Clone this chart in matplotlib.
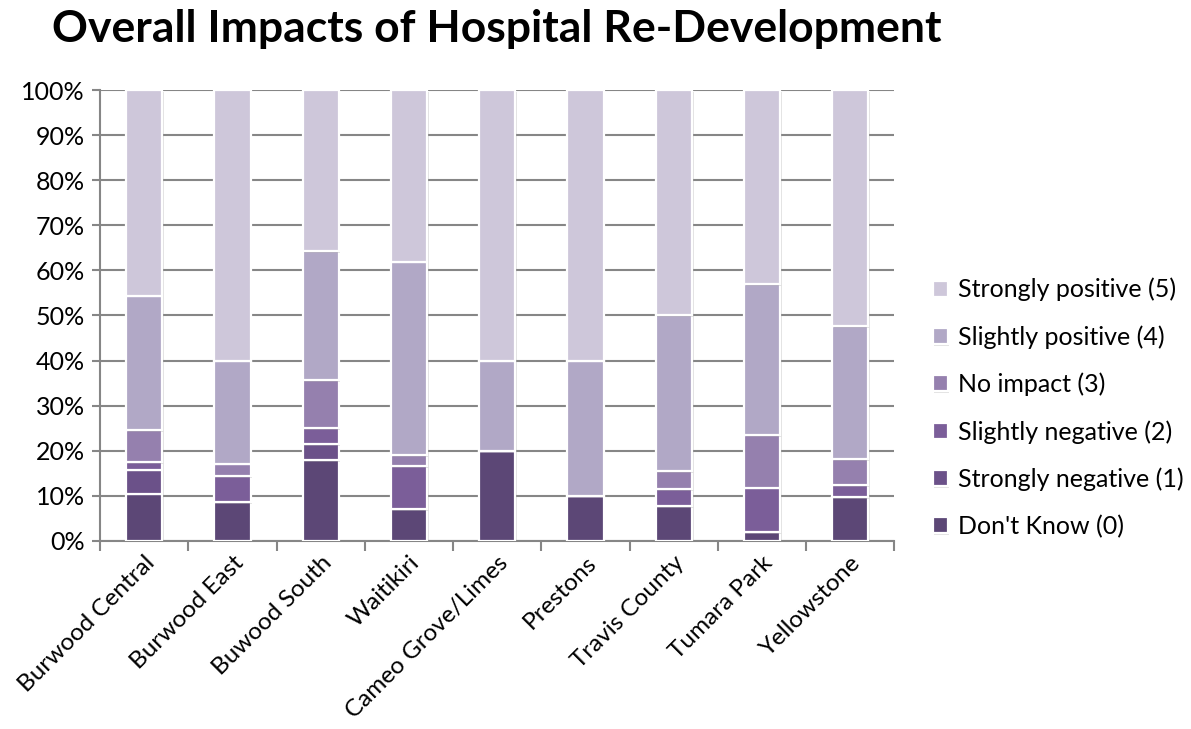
import matplotlib
matplotlib.use("Agg")
import matplotlib.pyplot as plt
import matplotlib.patheffects as pe
import numpy as np

plt.rcParams['font.family'] = ['Lato', 'DejaVu Sans']

areas = ["Burwood Central", "Burwood East", "Buwood South", "Waitikiri",
         "Cameo Grove/Limes", "Prestons", "Travis County", "Tumara Park",
         "Yellowstone"]

# Share of responses (%) in each category, bottom to top
dont_know         = [10.5,  8.6, 17.9,  7.1, 20.0, 10.0,  7.7,  2.0,  9.7]
strongly_negative = [ 5.3,  0.0,  3.6,  0.0,  0.0,  0.0,  0.0,  0.0,  0.0]
slightly_negative = [ 1.7,  5.7,  3.5,  9.5,  0.0,  0.0,  3.8,  9.8,  2.7]
no_impact         = [ 7.1,  2.8, 10.7,  2.4,  0.0,  0.0,  3.9, 11.7,  5.8]
slightly_positive = [29.8, 22.9, 28.6, 42.9, 20.0, 30.0, 34.6, 33.4, 29.5]
strongly_positive = [45.6, 60.0, 35.7, 38.1, 60.0, 60.0, 50.0, 43.1, 52.3]

series = [
    ("Don't Know (0)",          dont_know,         "#5C4776"),
    ("Strongly negative (1)",   strongly_negative, "#6B5189"),
    ("Slightly negative (2)",   slightly_negative, "#7B5E99"),
    ("No impact (3)",           no_impact,         "#9580AE"),
    ("Slightly positive (4)",   slightly_positive, "#B1A8C6"),
    ("Strongly positive (5)",   strongly_positive, "#CEC7DA"),
]

fs = 18

fig = plt.figure(figsize=(11.91, 7.29), dpi=100)
ax = fig.add_axes([0.084, 0.258, 0.667, 0.6185])

x = np.arange(len(areas))
bottom = np.zeros(len(areas))
handles = []
shadow = [pe.SimplePatchShadow(offset=(1.2, -1.2), shadow_rgbFace="#888888", alpha=0.25), pe.Normal()]
for label, vals, color in series:
    vals = np.array(vals)
    bars = ax.bar(x, vals, 0.41, bottom=bottom, color=color,
                  edgecolor="white", linewidth=1.6, label=label, zorder=3)
    for b in bars:
        b.set_path_effects(shadow)
    handles.append(bars)
    bottom += vals

ax.set_xlim(-0.5, len(areas) - 0.5)
ax.set_ylim(0, 100)
ax.set_yticks(np.arange(0, 101, 10))
ax.set_yticklabels([f"{v}%" for v in range(0, 101, 10)], fontsize=fs)
ax.yaxis.grid(True, color="#868686", linewidth=1.5, zorder=0)
ax.set_axisbelow(True)

ax.set_xticks(x)
ax.set_xticklabels(areas, rotation=45, ha="right", rotation_mode="anchor", fontsize=17.5)
ax.set_xticks(np.arange(-0.5, len(areas), 1.0), minor=True)
ax.tick_params(axis="x", which="major", length=0, pad=8)
ax.tick_params(axis="x", which="minor", length=7, width=1.5, color="#868686")
ax.tick_params(axis="y", length=6, width=1.5, color="#868686", pad=5)

for side in ("top", "right"):
    ax.spines[side].set_visible(False)
for side in ("left", "bottom"):
    ax.spines[side].set_color("#868686")
    ax.spines[side].set_linewidth(1.5)

leg = ax.legend(handles[::-1], [s[0] for s in series][::-1],
                loc="center left", bbox_to_anchor=(1.02, 0.295), frameon=False,
                fontsize=fs, handlelength=0.6, handleheight=0.6,
                handletextpad=0.4, labelspacing=0.95)

fig.text(0.044, 0.988, "Overall Impacts of Hospital Re-Development",
         fontsize=32, fontweight="bold", ha="left", va="top")

fig.savefig("out.png", dpi=100)
